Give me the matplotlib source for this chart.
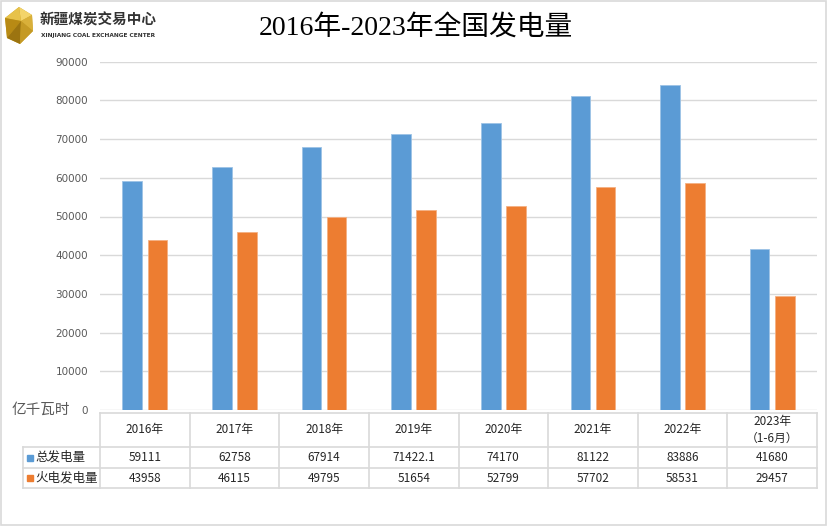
import matplotlib.pyplot as plt
from matplotlib.patches import Polygon, Rectangle
from matplotlib.lines import Line2D
import numpy as np

plt.rcParams['font.family'] = ['Noto Sans CJK SC', 'DejaVu Sans']

# data
years = ['2016年', '2017年', '2018年', '2019年', '2020年', '2021年', '2022年', '2023年\n（1-6月）']
total = [59111, 62758, 67914, 71422.1, 74170, 81122, 83886, 41680]
thermal = [43958, 46115, 49795, 51654, 52799, 57702, 58531, 29457]
total_txt = ['59111', '62758', '67914', '71422.1', '74170', '81122', '83886', '41680']
thermal_txt = ['43958', '46115', '49795', '51654', '52799', '57702', '58531', '29457']
series = ['总发电量', '火电发电量']
colors = ['#5B9BD5', '#ED7D31']

W, H = 831, 526
fig = plt.figure(figsize=(W / 100, H / 100), dpi=100)

# pixel helpers (top-left origin)
def fx(px):
    return px / W

def fy(py):
    return 1 - py / H

ax_l, ax_r, ax_top, ax_bot = 100, 817, 61.7, 410
ax = fig.add_axes([fx(ax_l), fy(ax_bot), fx(ax_r) - fx(ax_l), fy(ax_top) - fy(ax_bot)])

x = np.arange(len(years))
ax.bar(x - 0.14, total, width=0.22, color=colors[0], edgecolor='#9dc3e6', linewidth=0.6, zorder=3)
ax.bar(x + 0.14, thermal, width=0.22, color=colors[1], edgecolor='#f4b183', linewidth=0.6, zorder=3)

ax.set_xlim(-0.5, len(years) - 0.5)
ax.set_ylim(0, 90000)
ax.set_yticks(np.arange(0, 90001, 10000))
ax.set_yticklabels([str(v) for v in range(0, 90001, 10000)], color='#595959', fontsize=7.5,
                   family=['DejaVu Sans'])
ax.set_xticks([])
ax.tick_params(axis='y', length=0, pad=8.5)
ax.grid(axis='y', color='#d9d9d9', linewidth=1.0, zorder=0)
for s in ax.spines.values():
    s.set_visible(False)

# title
fig.text(fx(416), fy(28), '2016年-2023年全国发电量', ha='center', va='center', fontsize=20,
         family=['Liberation Serif', 'Noto Sans CJK SC'], color='#000000')

# unit label
fig.text(fx(12), fy(410), '亿千瓦时', ha='left', va='center', fontsize=10.5, color='#595959')

# data table below the axes
line_c = '#d9d9d9'
col_w = (ax_r - ax_l) / len(years)
r0, r1, r2, r3 = 413, 447, 468, 488
leg_l = 23
for yy, x0 in [(r0, ax_l), (r1, leg_l), (r2, leg_l), (r3, leg_l)]:
    fig.add_artist(Line2D([fx(x0), fx(ax_r)], [fy(yy), fy(yy)], color=line_c, lw=1.2))
for i in range(len(years) + 1):
    xx = ax_l + i * col_w
    fig.add_artist(Line2D([fx(xx), fx(xx)], [fy(r0), fy(r3)], color=line_c, lw=1.2))
fig.add_artist(Line2D([fx(leg_l), fx(leg_l)], [fy(r1), fy(r3)], color=line_c, lw=1.2))

for i, yr in enumerate(years):
    cx = ax_l + (i + 0.5) * col_w
    fig.text(fx(cx), fy((r0 + r1) / 2), yr, ha='center', va='center', fontsize=8.5,
             color='#262626', linespacing=1.4)
    fig.text(fx(cx), fy((r1 + r2) / 2), total_txt[i], ha='center', va='center', fontsize=8.5,
             color='#262626')
    fig.text(fx(cx), fy((r2 + r3) / 2), thermal_txt[i], ha='center', va='center', fontsize=8.5,
             color='#262626')

for j, (name, c) in enumerate(zip(series, colors)):
    yc = [(r1 + r2) / 2, (r2 + r3) / 2][j]
    fig.add_artist(Rectangle((fx(27), fy(yc + 3)), fx(6), fy(0) - fy(6), color=c))
    fig.text(fx(35), fy(yc), name, ha='left', va='center', fontsize=9, color='#262626')

# logo
gem_outer = [(19, 7), (32, 15), (33, 31), (20, 44), (7, 38), (5, 18)]
fig.add_artist(Polygon([(fx(a), fy(b)) for a, b in gem_outer], closed=True,
                       facecolor='#c9a227', edgecolor='none'))
facets = [
    ([(19, 7), (32, 15), (21, 21)], '#f3d46a'),
    ([(19, 7), (5, 18), (21, 21)], '#e7c24a'),
    ([(5, 18), (7, 38), (21, 21)], '#b88a14'),
    ([(32, 15), (33, 31), (21, 21)], '#d9b03a'),
    ([(7, 38), (20, 44), (21, 21)], '#9c7410'),
    ([(20, 44), (33, 31), (21, 21)], '#c59a25'),
]
for pts, c in facets:
    fig.add_artist(Polygon([(fx(a), fy(b)) for a, b in pts], closed=True,
                           facecolor=c, edgecolor='none'))
fig.text(fx(40), fy(19), '新疆煤炭交易中心', ha='left', va='center', fontsize=10.5,
         fontweight='bold', color='#333333')
fig.text(fx(41), fy(35), 'XINJIANG COAL EXCHANGE CENTER', ha='left', va='center', fontsize=4.2,
         fontweight='bold', color='#333333', family=['DejaVu Sans'])

# border
fig.add_artist(Rectangle((fx(1), fy(525)), fx(826) - fx(1), fy(1) - fy(525), fill=False,
                         edgecolor='#d9d9d9', lw=1.2))

fig.savefig('out.png', dpi=100)
